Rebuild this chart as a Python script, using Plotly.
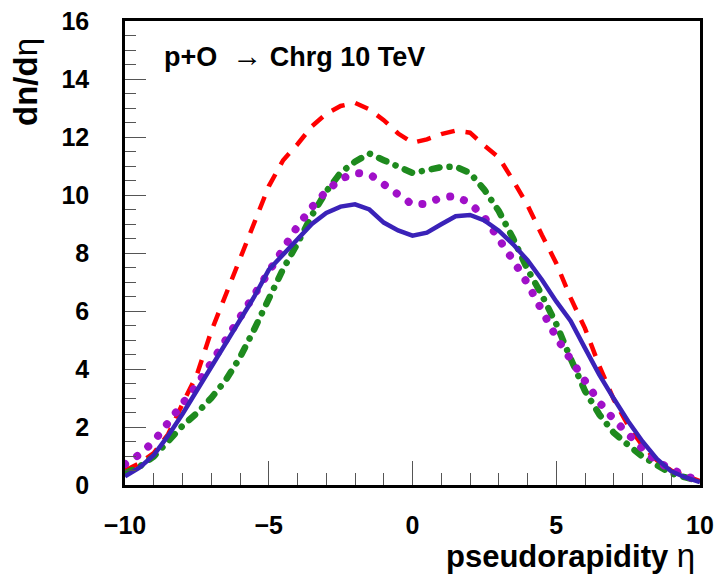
import plotly.graph_objects as go

# pseudorapidity grid
eta = [-10.0, -9.5, -9.0, -8.5, -8.0, -7.5, -7.0, -6.5, -6.0, -5.5, -5.0,
       -4.5, -4.0, -3.5, -3.0, -2.5, -2.0, -1.5, -1.0, -0.5, 0.0,
       0.5, 1.0, 1.5, 2.0, 2.5, 3.0, 3.5, 4.0, 4.5, 5.0,
       5.5, 6.0, 6.5, 7.0, 7.5, 8.0, 8.5, 9.0, 9.5, 10.0]

# red dashed curve
dn_red = [0.50, 0.75, 1.10, 1.75, 2.80, 3.80, 5.30, 6.55, 7.90, 9.15, 10.30,
          11.20, 11.75, 12.37, 12.80, 13.07, 13.18, 12.95, 12.58, 12.12, 11.80,
          11.92, 12.10, 12.22, 12.15, 11.70, 11.30, 10.50, 9.65, 8.62, 7.65,
          6.45, 5.40, 4.10, 2.95, 2.05, 1.35, 0.85, 0.50, 0.32, 0.13]

# green dash-dot curve
dn_green = [0.40, 0.63, 0.98, 1.52, 2.04, 2.48, 3.00, 3.61, 4.40, 5.38, 6.40,
            7.45, 8.33, 9.30, 10.12, 10.77, 11.15, 11.43, 11.20, 10.96, 10.76,
            10.86, 10.96, 10.98, 10.76, 10.18, 9.45, 8.50, 7.44, 6.55, 5.55,
            4.36, 3.24, 2.43, 1.80, 1.38, 0.98, 0.69, 0.40, 0.26, 0.13]

# purple dotted curve
dn_purple = [0.72, 1.05, 1.50, 2.14, 2.80, 3.45, 4.21, 5.00, 5.77, 6.60, 7.40,
             8.15, 8.92, 9.58, 10.13, 10.55, 10.76, 10.72, 10.37, 9.94, 9.67,
             9.70, 9.92, 9.96, 9.72, 9.23, 8.53, 7.75, 6.95, 5.95, 5.10,
             4.33, 3.55, 2.85, 2.26, 1.72, 1.25, 0.80, 0.53, 0.31, 0.15]

# blue solid curve
dn_blue = [0.30, 0.60, 1.03, 1.70, 2.45, 3.26, 4.14, 4.92, 5.76, 6.50, 7.42,
           7.95, 8.50, 9.00, 9.38, 9.60, 9.68, 9.50, 9.05, 8.78, 8.60,
           8.70, 8.99, 9.27, 9.31, 9.12, 8.77, 8.30, 7.75, 7.08, 6.33,
           5.66, 4.72, 3.80, 2.98, 2.20, 1.50, 0.90, 0.47, 0.26, 0.10]

x_ticks = [-10, -5, 0, 5, 10]
y_ticks = [0, 2, 4, 6, 8, 10, 12, 14, 16]

FONT = "Liberation Sans, Arial, sans-serif"

fig = go.Figure()

# red long dashes
fig.add_trace(go.Scatter(x=eta, y=dn_red, mode="lines",
                         line=dict(color="#ff0000", width=4.5, dash="14px,11px")))
# green dash-dot (round caps set after drawing)
fig.add_trace(go.Scatter(x=eta, y=dn_green, mode="lines",
                         line=dict(color="#1e8a1e", width=6.5, dash="8px,10px,0.1px,10px")))
# purple dots (round caps set after drawing)
fig.add_trace(go.Scatter(x=eta, y=dn_purple, mode="lines",
                         line=dict(color="#a010c8", width=8, dash="0.1px,14.5px")))
# blue solid
fig.add_trace(go.Scatter(x=eta, y=dn_blue, mode="lines",
                         line=dict(color="#3a22b8", width=4.5)))

fig.add_annotation(
    x=0.065, y=0.925, xref="paper", yref="paper", xanchor="left", yanchor="middle",
    text="<b>p+O</b>  <span style='font-size:30px'>\u2192</span> <b>Chrg 10 TeV</b>",
    showarrow=False, font=dict(family=FONT, size=27, color="black"),
)

axis_common = dict(
    ticks="inside", tickwidth=1, tickcolor="#555555",
    showgrid=False, zeroline=False, automargin=False,
    showline=True, linecolor="black", linewidth=2.5, mirror=True,
    tickfont=dict(family=FONT, size=25, weight="bold"),
)

fig.update_layout(
    width=717, height=578,
    margin=dict(l=125, r=17, t=21, b=93, autoexpand=False),
    paper_bgcolor="white", plot_bgcolor="white",
    showlegend=False,
    font=dict(family=FONT, color="black"),
    xaxis=dict(
        range=[-10, 10], tickvals=x_ticks, ticklen=24, ticklabelstandoff=16,
        minor=dict(dtick=1, ticks="inside", ticklen=12, tickwidth=1, tickcolor="#555555"),
        **axis_common,
    ),
    yaxis=dict(
        range=[0, 16], tickvals=y_ticks, ticklen=21, ticklabelstandoff=28,
        minor=dict(dtick=0.5, ticks="inside", ticklen=11, tickwidth=1, tickcolor="#555555"),
        **axis_common,
    ),
)

# axis titles placed like the ROOT layout (right / top aligned)
fig.add_annotation(
    x=0.995, y=-0.197, xref="paper", yref="paper", xanchor="right", yanchor="bottom",
    text="<b>pseudorapidity</b> <span style='font-size:33px'>\u03b7</span>",
    showarrow=False, font=dict(family=FONT, size=31, color="black"),
)
fig.add_annotation(
    x=-0.172, y=0.968, xref="paper", yref="paper", xanchor="center", yanchor="top",
    text="<b>dn/d</b>\u03b7", textangle=-90, showarrow=False,
    font=dict(family=FONT, size=33, color="black"),
)

post = """
document.body.style.margin = '0';
var tr = document.querySelectorAll('.scatterlayer .trace');
[1, 2].forEach(function(i) {
    if (tr[i]) tr[i].querySelectorAll('path.js-line').forEach(function(p) {
        p.style.strokeLinecap = 'round';
    });
});
"""

fig.write_html("out.html", post_script=post, config={"displayModeBar": False})
